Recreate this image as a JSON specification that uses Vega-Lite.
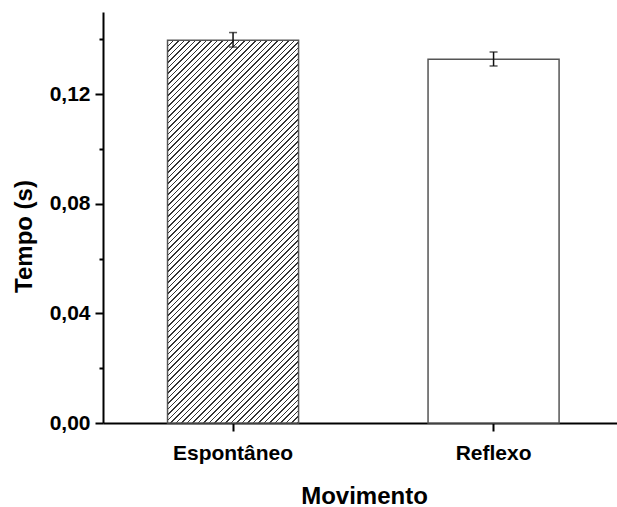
{
  "$schema": "https://vega.github.io/schema/vega-lite/v6.json",
  "width": 514,
  "height": 411,
  "autosize": "none",
  "padding": {"left": 103, "top": 12, "right": 0, "bottom": 84},
  "background": "white",
  "config": {"view": {"stroke": null}, "font": "Liberation Sans"},
  "data": {"values": [
    {"Movimento": "Espontâneo", "Tempo": 0.1397, "lo": 0.1372, "hi": 0.1425},
    {"Movimento": "Reflexo", "Tempo": 0.1328, "lo": 0.1303, "hi": 0.1354}
  ]},
  "encoding": {
    "x": {
      "field": "Movimento", "type": "nominal", "sort": ["Espontâneo", "Reflexo"],
      "scale": {"paddingInner": 0.497, "paddingOuter": 0.235, "align": 0.527},
      "axis": {
        "title": "Movimento", "titleFontSize": 24, "titleFontWeight": "bold", "titleColor": "#000",
        "titleX": 261, "titleY": 80, "titleBaseline": "alphabetic", "titleAlign": "center",
        "labelFontSize": 21, "labelFontWeight": "bold", "labelColor": "#000", "labelAngle": 0,
        "labelPadding": 11, "tickSize": 8, "tickWidth": 2, "tickColor": "#000",
        "domainColor": "#000", "domainWidth": 2, "grid": false
      }
    },
    "y": {
      "field": "Tempo", "type": "quantitative",
      "scale": {"domain": [0, 0.15], "nice": false, "zero": true},
      "axis": {
        "title": "Tempo (s)", "titleFontSize": 24, "titleFontWeight": "bold", "titleColor": "#000",
        "titleX": -72, "titleY": 224, "titleAngle": -90, "titleBaseline": "alphabetic", "titleAlign": "center",
        "values": [0, 0.02, 0.04, 0.06, 0.08, 0.1, 0.12, 0.14],
        "labelExpr": "round(datum.value*100)%4===0 ? replace(format(datum.value,'.2f'),'.',',') : ''",
        "labelFontSize": 21, "labelFontWeight": "bold", "labelColor": "#000", "labelPadding": 5,
        "labelFlush": false,
        "tickSize": {"condition": {"test": "round(datum.value*100)%4===0", "value": 8}, "value": 4},
        "tickWidth": 2, "tickColor": "#000",
        "domainColor": "#000", "domainWidth": 2, "grid": false
      }
    }
  },
  "layer": [
    {
      "transform": [{"filter": "datum.Movimento === 'Espontâneo'"}],
      "mark": {
        "type": "bar", "stroke": "#555", "strokeWidth": 1.5,
        "fill": {
          "gradient": "linear", "x1": 0, "y1": 0, "x2": 0.4397, "y2": 1.2856,
          "stops": [
{"offset":0.00,"color":"#333"},{"offset":0.003,"color":"#333"},{"offset":0.003,"color":"#fff"},{"offset":0.01,"color":"#fff"},
{"offset":0.01,"color":"#333"},{"offset":0.013,"color":"#333"},{"offset":0.013,"color":"#fff"},{"offset":0.02,"color":"#fff"},
{"offset":0.02,"color":"#333"},{"offset":0.023,"color":"#333"},{"offset":0.023,"color":"#fff"},{"offset":0.03,"color":"#fff"},
{"offset":0.03,"color":"#333"},{"offset":0.033,"color":"#333"},{"offset":0.033,"color":"#fff"},{"offset":0.04,"color":"#fff"},
{"offset":0.04,"color":"#333"},{"offset":0.043,"color":"#333"},{"offset":0.043,"color":"#fff"},{"offset":0.05,"color":"#fff"},
{"offset":0.05,"color":"#333"},{"offset":0.053,"color":"#333"},{"offset":0.053,"color":"#fff"},{"offset":0.06,"color":"#fff"},
{"offset":0.06,"color":"#333"},{"offset":0.063,"color":"#333"},{"offset":0.063,"color":"#fff"},{"offset":0.07,"color":"#fff"},
{"offset":0.07,"color":"#333"},{"offset":0.073,"color":"#333"},{"offset":0.073,"color":"#fff"},{"offset":0.08,"color":"#fff"},
{"offset":0.08,"color":"#333"},{"offset":0.083,"color":"#333"},{"offset":0.083,"color":"#fff"},{"offset":0.09,"color":"#fff"},
{"offset":0.09,"color":"#333"},{"offset":0.093,"color":"#333"},{"offset":0.093,"color":"#fff"},{"offset":0.10,"color":"#fff"},
{"offset":0.10,"color":"#333"},{"offset":0.103,"color":"#333"},{"offset":0.103,"color":"#fff"},{"offset":0.11,"color":"#fff"},
{"offset":0.11,"color":"#333"},{"offset":0.113,"color":"#333"},{"offset":0.113,"color":"#fff"},{"offset":0.12,"color":"#fff"},
{"offset":0.12,"color":"#333"},{"offset":0.123,"color":"#333"},{"offset":0.123,"color":"#fff"},{"offset":0.13,"color":"#fff"},
{"offset":0.13,"color":"#333"},{"offset":0.133,"color":"#333"},{"offset":0.133,"color":"#fff"},{"offset":0.14,"color":"#fff"},
{"offset":0.14,"color":"#333"},{"offset":0.143,"color":"#333"},{"offset":0.143,"color":"#fff"},{"offset":0.15,"color":"#fff"},
{"offset":0.15,"color":"#333"},{"offset":0.153,"color":"#333"},{"offset":0.153,"color":"#fff"},{"offset":0.16,"color":"#fff"},
{"offset":0.16,"color":"#333"},{"offset":0.163,"color":"#333"},{"offset":0.163,"color":"#fff"},{"offset":0.17,"color":"#fff"},
{"offset":0.17,"color":"#333"},{"offset":0.173,"color":"#333"},{"offset":0.173,"color":"#fff"},{"offset":0.18,"color":"#fff"},
{"offset":0.18,"color":"#333"},{"offset":0.183,"color":"#333"},{"offset":0.183,"color":"#fff"},{"offset":0.19,"color":"#fff"},
{"offset":0.19,"color":"#333"},{"offset":0.193,"color":"#333"},{"offset":0.193,"color":"#fff"},{"offset":0.20,"color":"#fff"},
{"offset":0.20,"color":"#333"},{"offset":0.203,"color":"#333"},{"offset":0.203,"color":"#fff"},{"offset":0.21,"color":"#fff"},
{"offset":0.21,"color":"#333"},{"offset":0.213,"color":"#333"},{"offset":0.213,"color":"#fff"},{"offset":0.22,"color":"#fff"},
{"offset":0.22,"color":"#333"},{"offset":0.223,"color":"#333"},{"offset":0.223,"color":"#fff"},{"offset":0.23,"color":"#fff"},
{"offset":0.23,"color":"#333"},{"offset":0.233,"color":"#333"},{"offset":0.233,"color":"#fff"},{"offset":0.24,"color":"#fff"},
{"offset":0.24,"color":"#333"},{"offset":0.243,"color":"#333"},{"offset":0.243,"color":"#fff"},{"offset":0.25,"color":"#fff"},
{"offset":0.25,"color":"#333"},{"offset":0.253,"color":"#333"},{"offset":0.253,"color":"#fff"},{"offset":0.26,"color":"#fff"},
{"offset":0.26,"color":"#333"},{"offset":0.263,"color":"#333"},{"offset":0.263,"color":"#fff"},{"offset":0.27,"color":"#fff"},
{"offset":0.27,"color":"#333"},{"offset":0.273,"color":"#333"},{"offset":0.273,"color":"#fff"},{"offset":0.28,"color":"#fff"},
{"offset":0.28,"color":"#333"},{"offset":0.283,"color":"#333"},{"offset":0.283,"color":"#fff"},{"offset":0.29,"color":"#fff"},
{"offset":0.29,"color":"#333"},{"offset":0.293,"color":"#333"},{"offset":0.293,"color":"#fff"},{"offset":0.30,"color":"#fff"},
{"offset":0.30,"color":"#333"},{"offset":0.303,"color":"#333"},{"offset":0.303,"color":"#fff"},{"offset":0.31,"color":"#fff"},
{"offset":0.31,"color":"#333"},{"offset":0.313,"color":"#333"},{"offset":0.313,"color":"#fff"},{"offset":0.32,"color":"#fff"},
{"offset":0.32,"color":"#333"},{"offset":0.323,"color":"#333"},{"offset":0.323,"color":"#fff"},{"offset":0.33,"color":"#fff"},
{"offset":0.33,"color":"#333"},{"offset":0.333,"color":"#333"},{"offset":0.333,"color":"#fff"},{"offset":0.34,"color":"#fff"},
{"offset":0.34,"color":"#333"},{"offset":0.343,"color":"#333"},{"offset":0.343,"color":"#fff"},{"offset":0.35,"color":"#fff"},
{"offset":0.35,"color":"#333"},{"offset":0.353,"color":"#333"},{"offset":0.353,"color":"#fff"},{"offset":0.36,"color":"#fff"},
{"offset":0.36,"color":"#333"},{"offset":0.363,"color":"#333"},{"offset":0.363,"color":"#fff"},{"offset":0.37,"color":"#fff"},
{"offset":0.37,"color":"#333"},{"offset":0.373,"color":"#333"},{"offset":0.373,"color":"#fff"},{"offset":0.38,"color":"#fff"},
{"offset":0.38,"color":"#333"},{"offset":0.383,"color":"#333"},{"offset":0.383,"color":"#fff"},{"offset":0.39,"color":"#fff"},
{"offset":0.39,"color":"#333"},{"offset":0.393,"color":"#333"},{"offset":0.393,"color":"#fff"},{"offset":0.40,"color":"#fff"},
{"offset":0.40,"color":"#333"},{"offset":0.403,"color":"#333"},{"offset":0.403,"color":"#fff"},{"offset":0.41,"color":"#fff"},
{"offset":0.41,"color":"#333"},{"offset":0.413,"color":"#333"},{"offset":0.413,"color":"#fff"},{"offset":0.42,"color":"#fff"},
{"offset":0.42,"color":"#333"},{"offset":0.423,"color":"#333"},{"offset":0.423,"color":"#fff"},{"offset":0.43,"color":"#fff"},
{"offset":0.43,"color":"#333"},{"offset":0.433,"color":"#333"},{"offset":0.433,"color":"#fff"},{"offset":0.44,"color":"#fff"},
{"offset":0.44,"color":"#333"},{"offset":0.443,"color":"#333"},{"offset":0.443,"color":"#fff"},{"offset":0.45,"color":"#fff"},
{"offset":0.45,"color":"#333"},{"offset":0.453,"color":"#333"},{"offset":0.453,"color":"#fff"},{"offset":0.46,"color":"#fff"},
{"offset":0.46,"color":"#333"},{"offset":0.463,"color":"#333"},{"offset":0.463,"color":"#fff"},{"offset":0.47,"color":"#fff"},
{"offset":0.47,"color":"#333"},{"offset":0.473,"color":"#333"},{"offset":0.473,"color":"#fff"},{"offset":0.48,"color":"#fff"},
{"offset":0.48,"color":"#333"},{"offset":0.483,"color":"#333"},{"offset":0.483,"color":"#fff"},{"offset":0.49,"color":"#fff"},
{"offset":0.49,"color":"#333"},{"offset":0.493,"color":"#333"},{"offset":0.493,"color":"#fff"},{"offset":0.50,"color":"#fff"},
{"offset":0.50,"color":"#333"},{"offset":0.503,"color":"#333"},{"offset":0.503,"color":"#fff"},{"offset":0.51,"color":"#fff"},
{"offset":0.51,"color":"#333"},{"offset":0.513,"color":"#333"},{"offset":0.513,"color":"#fff"},{"offset":0.52,"color":"#fff"},
{"offset":0.52,"color":"#333"},{"offset":0.523,"color":"#333"},{"offset":0.523,"color":"#fff"},{"offset":0.53,"color":"#fff"},
{"offset":0.53,"color":"#333"},{"offset":0.533,"color":"#333"},{"offset":0.533,"color":"#fff"},{"offset":0.54,"color":"#fff"},
{"offset":0.54,"color":"#333"},{"offset":0.543,"color":"#333"},{"offset":0.543,"color":"#fff"},{"offset":0.55,"color":"#fff"},
{"offset":0.55,"color":"#333"},{"offset":0.553,"color":"#333"},{"offset":0.553,"color":"#fff"},{"offset":0.56,"color":"#fff"},
{"offset":0.56,"color":"#333"},{"offset":0.563,"color":"#333"},{"offset":0.563,"color":"#fff"},{"offset":0.57,"color":"#fff"},
{"offset":0.57,"color":"#333"},{"offset":0.573,"color":"#333"},{"offset":0.573,"color":"#fff"},{"offset":0.58,"color":"#fff"},
{"offset":0.58,"color":"#333"},{"offset":0.583,"color":"#333"},{"offset":0.583,"color":"#fff"},{"offset":0.59,"color":"#fff"},
{"offset":0.59,"color":"#333"},{"offset":0.593,"color":"#333"},{"offset":0.593,"color":"#fff"},{"offset":0.60,"color":"#fff"},
{"offset":0.60,"color":"#333"},{"offset":0.603,"color":"#333"},{"offset":0.603,"color":"#fff"},{"offset":0.61,"color":"#fff"},
{"offset":0.61,"color":"#333"},{"offset":0.613,"color":"#333"},{"offset":0.613,"color":"#fff"},{"offset":0.62,"color":"#fff"},
{"offset":0.62,"color":"#333"},{"offset":0.623,"color":"#333"},{"offset":0.623,"color":"#fff"},{"offset":0.63,"color":"#fff"},
{"offset":0.63,"color":"#333"},{"offset":0.633,"color":"#333"},{"offset":0.633,"color":"#fff"},{"offset":0.64,"color":"#fff"},
{"offset":0.64,"color":"#333"},{"offset":0.643,"color":"#333"},{"offset":0.643,"color":"#fff"},{"offset":0.65,"color":"#fff"},
{"offset":0.65,"color":"#333"},{"offset":0.653,"color":"#333"},{"offset":0.653,"color":"#fff"},{"offset":0.66,"color":"#fff"},
{"offset":0.66,"color":"#333"},{"offset":0.663,"color":"#333"},{"offset":0.663,"color":"#fff"},{"offset":0.67,"color":"#fff"},
{"offset":0.67,"color":"#333"},{"offset":0.673,"color":"#333"},{"offset":0.673,"color":"#fff"},{"offset":0.68,"color":"#fff"},
{"offset":0.68,"color":"#333"},{"offset":0.683,"color":"#333"},{"offset":0.683,"color":"#fff"},{"offset":0.69,"color":"#fff"},
{"offset":0.69,"color":"#333"},{"offset":0.693,"color":"#333"},{"offset":0.693,"color":"#fff"},{"offset":0.70,"color":"#fff"},
{"offset":0.70,"color":"#333"},{"offset":0.703,"color":"#333"},{"offset":0.703,"color":"#fff"},{"offset":0.71,"color":"#fff"},
{"offset":0.71,"color":"#333"},{"offset":0.713,"color":"#333"},{"offset":0.713,"color":"#fff"},{"offset":0.72,"color":"#fff"},
{"offset":0.72,"color":"#333"},{"offset":0.723,"color":"#333"},{"offset":0.723,"color":"#fff"},{"offset":0.73,"color":"#fff"},
{"offset":0.73,"color":"#333"},{"offset":0.733,"color":"#333"},{"offset":0.733,"color":"#fff"},{"offset":0.74,"color":"#fff"},
{"offset":0.74,"color":"#333"},{"offset":0.743,"color":"#333"},{"offset":0.743,"color":"#fff"},{"offset":0.75,"color":"#fff"},
{"offset":0.75,"color":"#333"},{"offset":0.753,"color":"#333"},{"offset":0.753,"color":"#fff"},{"offset":0.76,"color":"#fff"},
{"offset":0.76,"color":"#333"},{"offset":0.763,"color":"#333"},{"offset":0.763,"color":"#fff"},{"offset":0.77,"color":"#fff"},
{"offset":0.77,"color":"#333"},{"offset":0.773,"color":"#333"},{"offset":0.773,"color":"#fff"},{"offset":0.78,"color":"#fff"},
{"offset":0.78,"color":"#333"},{"offset":0.783,"color":"#333"},{"offset":0.783,"color":"#fff"},{"offset":0.79,"color":"#fff"},
{"offset":0.79,"color":"#333"},{"offset":0.793,"color":"#333"},{"offset":0.793,"color":"#fff"},{"offset":0.80,"color":"#fff"},
{"offset":0.80,"color":"#333"},{"offset":0.803,"color":"#333"},{"offset":0.803,"color":"#fff"},{"offset":0.81,"color":"#fff"},
{"offset":0.81,"color":"#333"},{"offset":0.813,"color":"#333"},{"offset":0.813,"color":"#fff"},{"offset":0.82,"color":"#fff"},
{"offset":0.82,"color":"#333"},{"offset":0.823,"color":"#333"},{"offset":0.823,"color":"#fff"},{"offset":0.83,"color":"#fff"},
{"offset":0.83,"color":"#333"},{"offset":0.833,"color":"#333"},{"offset":0.833,"color":"#fff"},{"offset":0.84,"color":"#fff"},
{"offset":0.84,"color":"#333"},{"offset":0.843,"color":"#333"},{"offset":0.843,"color":"#fff"},{"offset":0.85,"color":"#fff"},
{"offset":0.85,"color":"#333"},{"offset":0.853,"color":"#333"},{"offset":0.853,"color":"#fff"},{"offset":0.86,"color":"#fff"},
{"offset":0.86,"color":"#333"},{"offset":0.863,"color":"#333"},{"offset":0.863,"color":"#fff"},{"offset":0.87,"color":"#fff"},
{"offset":0.87,"color":"#333"},{"offset":0.873,"color":"#333"},{"offset":0.873,"color":"#fff"},{"offset":0.88,"color":"#fff"},
{"offset":0.88,"color":"#333"},{"offset":0.883,"color":"#333"},{"offset":0.883,"color":"#fff"},{"offset":0.89,"color":"#fff"},
{"offset":0.89,"color":"#333"},{"offset":0.893,"color":"#333"},{"offset":0.893,"color":"#fff"},{"offset":0.90,"color":"#fff"},
{"offset":0.90,"color":"#333"},{"offset":0.903,"color":"#333"},{"offset":0.903,"color":"#fff"},{"offset":0.91,"color":"#fff"},
{"offset":0.91,"color":"#333"},{"offset":0.913,"color":"#333"},{"offset":0.913,"color":"#fff"},{"offset":0.92,"color":"#fff"},
{"offset":0.92,"color":"#333"},{"offset":0.923,"color":"#333"},{"offset":0.923,"color":"#fff"},{"offset":0.93,"color":"#fff"},
{"offset":0.93,"color":"#333"},{"offset":0.933,"color":"#333"},{"offset":0.933,"color":"#fff"},{"offset":0.94,"color":"#fff"},
{"offset":0.94,"color":"#333"},{"offset":0.943,"color":"#333"},{"offset":0.943,"color":"#fff"},{"offset":0.95,"color":"#fff"},
{"offset":0.95,"color":"#333"},{"offset":0.953,"color":"#333"},{"offset":0.953,"color":"#fff"},{"offset":0.96,"color":"#fff"},
{"offset":0.96,"color":"#333"},{"offset":0.963,"color":"#333"},{"offset":0.963,"color":"#fff"},{"offset":0.97,"color":"#fff"},
{"offset":0.97,"color":"#333"},{"offset":0.973,"color":"#333"},{"offset":0.973,"color":"#fff"},{"offset":0.98,"color":"#fff"},
{"offset":0.98,"color":"#333"},{"offset":0.983,"color":"#333"},{"offset":0.983,"color":"#fff"},{"offset":0.99,"color":"#fff"},
{"offset":0.99,"color":"#333"},{"offset":0.993,"color":"#333"},{"offset":0.993,"color":"#fff"},{"offset":1,"color":"#fff"}
          ]
        }
      }
    },
    {
      "transform": [{"filter": "datum.Movimento === 'Reflexo'"}],
      "mark": {"type": "bar", "fill": "#fff", "stroke": "#555", "strokeWidth": 1.5}
    },
    {
      "mark": {"type": "rule", "color": "#111", "strokeWidth": 1.5},
      "encoding": {"y": {"field": "lo", "type": "quantitative"}, "y2": {"field": "hi"}}
    },
    {
      "mark": {"type": "tick", "color": "#111", "size": 8, "thickness": 1.5},
      "encoding": {"y": {"field": "lo", "type": "quantitative"}}
    },
    {
      "mark": {"type": "tick", "color": "#111", "size": 8, "thickness": 1.5},
      "encoding": {"y": {"field": "hi", "type": "quantitative"}}
    }
  ]
}
